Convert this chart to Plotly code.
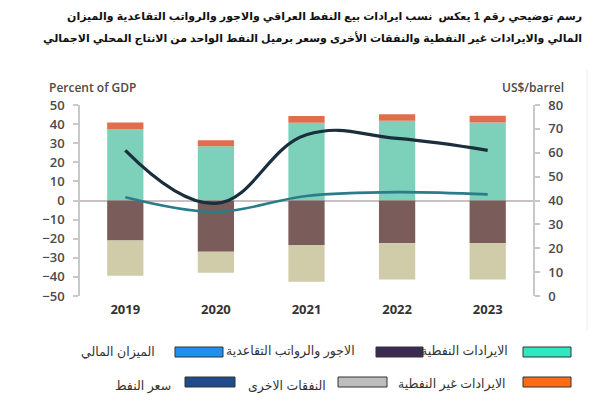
import plotly.graph_objects as go

years = ["2019", "2020", "2021", "2022", "2023"]
oil_revenue = [37.5, 28.4, 40.7, 41.8, 40.9]
non_oil_revenue = [3.3, 3.1, 3.5, 3.3, 3.5]
wages_pensions = [-21.0, -26.8, -23.3, -22.4, -22.3]
other_expenses = [-18.4, -11.0, -19.2, -18.9, -19.0]
fiscal_balance = [1.7, -6.0, 2.4, 4.4, 3.2]
oil_price = [61.0, 38.8, 67.5, 66.0, 61.0]

left_ticks = [50, 40, 30, 20, 10, 0, -10, -20, -30, -40, -50]
right_ticks = [0, 10, 20, 30, 40, 50, 60, 70, 80]

title_lines = [
    "رسم توضيحي رقم 1 يعكس  نسب ايرادات بيع النفط العراقي والاجور والرواتب التقاعدية والميزان",
    "المالي والايرادات غير النفطية والنفقات الأخرى وسعر برميل النفط الواحد من الانتاج المحلي الاجمالي",
]

legend_items = [
    ("الايرادات النفطية", "#2ee8c2"),
    ("الاجور والرواتب التقاعدية", "#3b2a52"),
    ("الميزان المالي", "#1e90f0"),
    ("الايرادات غير النفطية", "#ff6a14"),
    ("النفقات الاخرى", "#bdbdbd"),
    ("سعر النفط", "#1f4a8c"),
]

W, H = 600, 406
L, R, T, B = 80, 533, 105, 296


def px(x):
    return (x - L) / (R - L)


def py(y):
    return (B - y) / (B - T)


fig = go.Figure()
bw = 0.4
fig.add_bar(x=years, y=oil_revenue, marker=dict(color="#7dd0b9", line=dict(width=0)), width=bw, showlegend=False)
fig.add_bar(x=years, y=non_oil_revenue, marker=dict(color="#df6e4c", line=dict(width=0)), width=bw, showlegend=False)
fig.add_bar(x=years, y=wages_pensions, marker=dict(color="#7a5c5b", line=dict(width=0)), width=bw, showlegend=False)
fig.add_bar(x=years, y=other_expenses, marker=dict(color="#d0cba9", line=dict(width=0)), width=bw, showlegend=False)

fig.add_scatter(x=years, y=fiscal_balance, mode="lines",
                line=dict(color="#2b7c8a", width=2.6, shape="spline", smoothing=1.0),
                showlegend=False)
fig.add_scatter(x=years, y=oil_price, mode="lines", yaxis="y2",
                line=dict(color="#1b2e3d", width=3.2, shape="spline", smoothing=1.2),
                showlegend=False)

tickfont = dict(family="Open Sans, Arial, sans-serif", size=13, color="#4a4a4a", weight=600)

fig.update_layout(
    width=W, height=H,
    margin=dict(l=L, r=W - R, t=T, b=H - B),
    paper_bgcolor="white", plot_bgcolor="white",
    barmode="relative",
    bargap=0.6,
    xaxis=dict(showgrid=False, showline=False, ticks="", tickfont=dict(family="Open Sans, Arial, sans-serif", size=13, color="#333333", weight=700),
               ticklabelstandoff=4, range=[-0.5, 4.5]),
    yaxis=dict(range=[-50, 50], tickvals=left_ticks, showgrid=False,
               showline=True, linecolor="#c8c8c8", linewidth=1.5,
               ticks="outside", ticklen=5, tickcolor="#c8c8c8", tickwidth=1.5,
               zeroline=True, zerolinecolor="#c9c1c1", zerolinewidth=1.5,
               tickfont=tickfont, ticklabelstandoff=6),
    yaxis2=dict(range=[0, 80], tickvals=right_ticks, overlaying="y", side="right",
                showgrid=False, showline=True, linecolor="#c8c8c8", linewidth=1.5,
                ticks="outside", ticklen=5, tickcolor="#c8c8c8", tickwidth=1.5,
                zeroline=False, tickfont=tickfont, ticklabelstandoff=6),
    font=dict(family="Arial, Liberation Sans, DejaVu Sans, sans-serif"),
)

annotations = []
# title
for i, line in enumerate(title_lines):
    annotations.append(dict(
        x=px(584), y=py(16 + i * 22), xref="paper", yref="paper",
        xanchor="right", yanchor="middle", showarrow=False, text="<b>" + line + "</b>",
        font=dict(family="Arial, DejaVu Sans, sans-serif", size=11, color="#111111"),
    ))
# axis titles
annotations.append(dict(x=px(47), y=py(87), xref="paper", yref="paper", xanchor="left", yanchor="middle",
                        showarrow=False, text="Percent of GDP",
                        font=dict(family="Open Sans, Arial, sans-serif", size=12, color="#4a4a4a", weight=600)))
annotations.append(dict(x=px(566), y=py(87), xref="paper", yref="paper", xanchor="right", yanchor="middle",
                        showarrow=False, text="US$/barrel",
                        font=dict(family="Open Sans, Arial, sans-serif", size=12, color="#4a4a4a", weight=600)))

shapes = []
# legend layout (pixel positions)
sw_boxes = [(523, 571, 347, 357), (376, 423, 347, 357), (175, 223, 347, 357),
            (523, 571, 377, 387), (338, 387, 377, 387), (185, 235, 377, 387)]
text_pos = [(510, 351), (357, 351), (157, 352), (508, 384), (328, 386), (173, 386)]
for (label, color), (x0, x1, y0, y1), (tx, ty) in zip(legend_items, sw_boxes, text_pos):
    shapes.append(dict(type="rect", xref="paper", yref="paper", x0=px(x0), x1=px(x1), y0=py(y1), y1=py(y0),
                       fillcolor=color, line=dict(color="#333333", width=1)))
    annotations.append(dict(x=px(tx), y=py(ty), xref="paper", yref="paper", xanchor="right", yanchor="middle",
                            showarrow=False, text=label,
                            font=dict(family="Arial, DejaVu Sans, sans-serif", size=12.5, color="#333333")))
# faint frame line of embedded picture
shapes.append(dict(type="line", xref="paper", yref="paper", x0=px(587), x1=px(587), y0=py(70), y1=py(330),
                   line=dict(color="#ececec", width=1)))

fig.update_layout(annotations=annotations, shapes=shapes)
fig.write_html("out.html")
